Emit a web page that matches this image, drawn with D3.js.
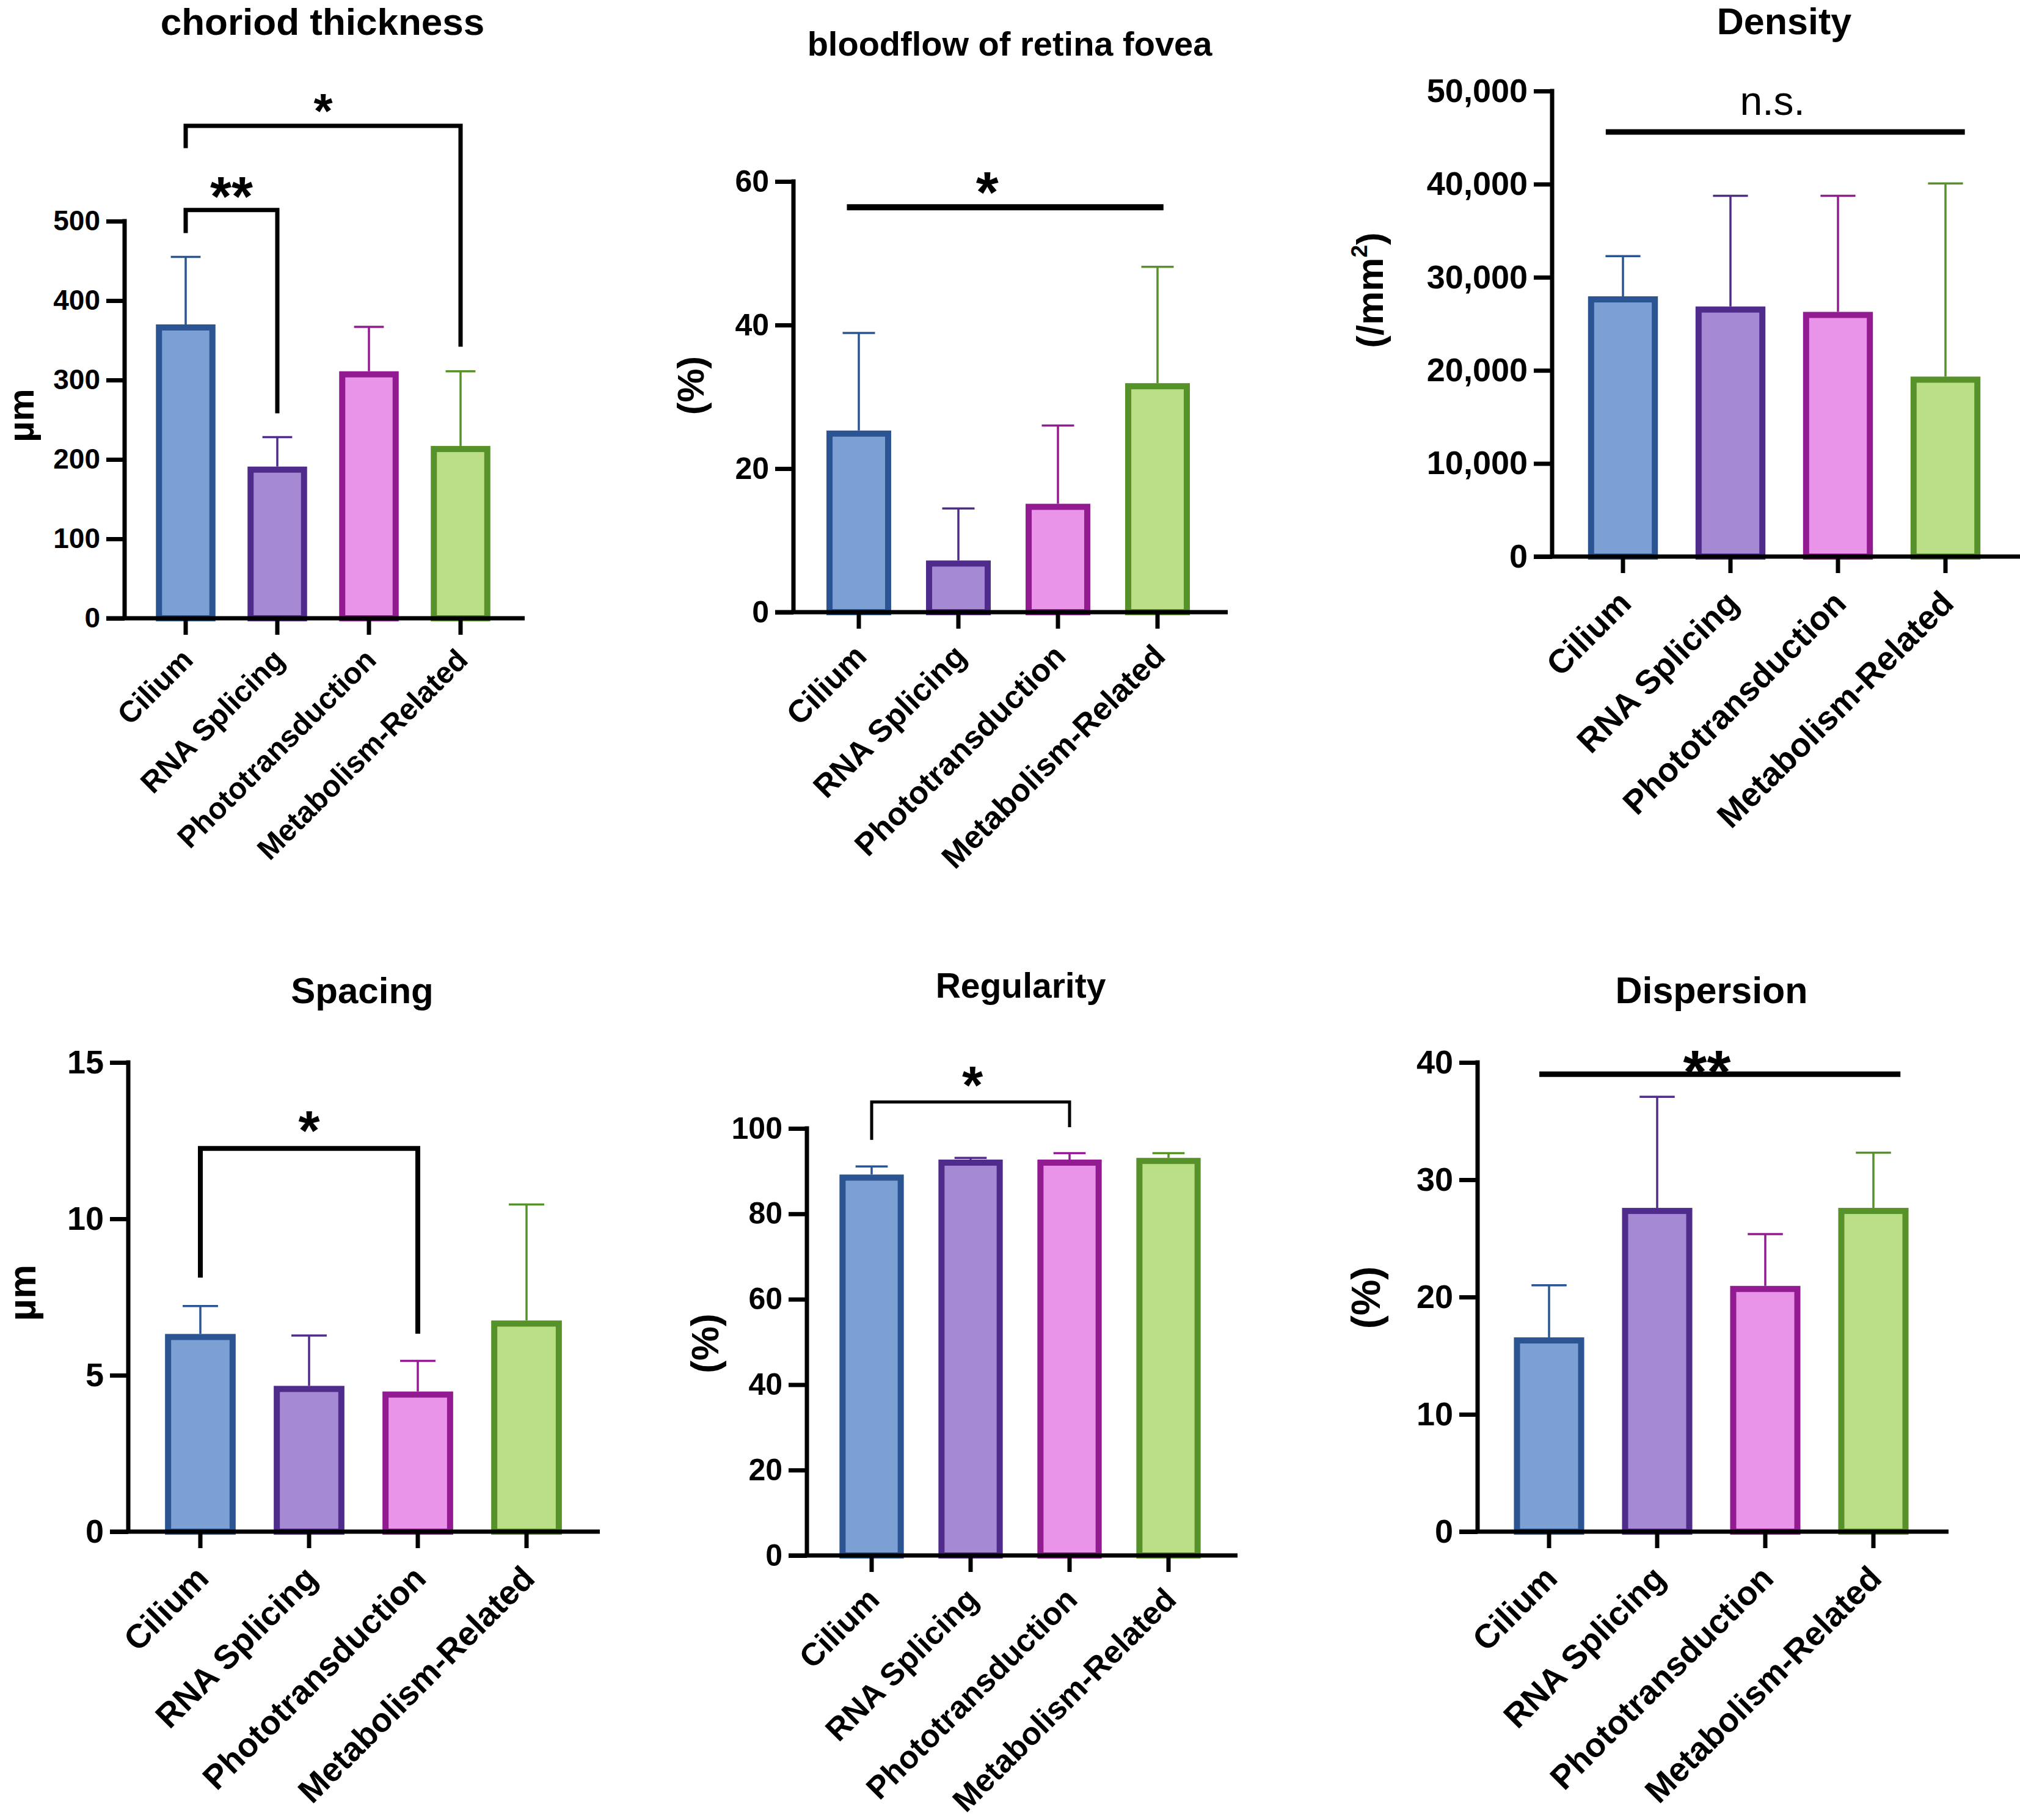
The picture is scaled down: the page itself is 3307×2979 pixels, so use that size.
<!DOCTYPE html>
<html><head><meta charset="utf-8">
<script src="https://cdn.jsdelivr.net/npm/d3@7"></script>
<style>html,body{margin:0;padding:0;background:#fff;} svg{display:block;}</style>
</head><body>
<script>
// ---------- data ----------
const categories = ["Cilium","RNA Splicing","Phototransduction","Metabolism-Related"];
const fills   = ["#7DA0D4","#A58AD3","#E994E8","#BBDF87"];
const strokes = ["#2A5592","#4F2C8C","#921B91","#56912A"];

const choroidMean = [370,191,311,217];
const choroidSD   = [85,37,56,94];
const choroidTicks = [0,100,200,300,400,500];

const bloodMean = [25.3,7.2,15.1,31.9];
const bloodSD   = [13.6,7.25,10.9,16.2];
const bloodTicks = [0,20,40,60];

const densityMean = [27950,26860,26280,19330];
const densitySD   = [4310,11880,12460,20750];
const densityTicks = [0,10000,20000,30000,40000,50000];

const spacingMean = [6.32,4.66,4.48,6.75];
const spacingSD   = [0.89,1.61,0.98,3.71];
const spacingTicks = [0,5,10,15];

const regularityMean = [89.2,92.7,92.7,93.1];
const regularitySD   = [1.9,0.4,1.5,1.1];
const regularityTicks = [0,20,40,60,80,100];

const dispersionMean = [16.56,27.6,20.95,27.6];
const dispersionSD   = [4.44,9.47,4.42,4.7];
const dispersionTicks = [0,10,20,30,40];

// significance annotations (category index, value units)
const choroidSig = [
  {type:"bracket", a:0, b:1, top:514, legA:485, legB:258, label:"**", lx:0.5, ly:546},
  {type:"bracket", a:0, b:3, top:620, legA:592, legB:342, label:"*", lx:1.5, ly:652}
];
const bloodSig = [{type:"line", a:-0.12, b:3.06, top:56.4, label:"*", lx:1.29, ly:60.3}];
const densitySig = [{type:"line", a:-0.16, b:3.18, top:45600, label:"n.s.", lx:1.39, ly:47440}];
const spacingSig = [{type:"bracket", a:0, b:2, top:12.25, legA:8.12, legB:6.33, label:"*", lx:1.0, ly:13.2}];
const regularitySig = [{type:"bracket", a:0, b:2, top:106.2, legA:97.3, legB:100.3, label:"*", lx:1.02, ly:112.9}];
const dispersionSig = [{type:"line", a:-0.09, b:3.25, top:39.0, label:"**", lx:1.46, ly:40.3}];

// ---------- layout ----------
const W = 3307, H = 2979;
const FONT = "'Liberation Sans', Arial, Helvetica, sans-serif";
const svg = d3.select("body").append("svg").attr("width",W).attr("height",H)
  .attr("font-family",FONT);
svg.append("rect").attr("width",W).attr("height",H).attr("fill","#fff");

const panels = [
  {title:"choriod thickness", tX:528, tY:57, tFs:62, mean:choroidMean, sd:choroidSD, ticks:choroidTicks,
   ax:204, yTop:362, y0:1012, xEnd:859, off:100, step:150, tickFs:46, catFs:49,
   ylab:"µm", ylX:55, ylY:680, ylFs:60, sig:choroidSig, sigW:7, starFs:[90,80]},
  {title:"bloodflow of retina fovea", tX:1653, tY:91, tFs:56, mean:bloodMean, sd:bloodSD, ticks:bloodTicks,
   ax:1299, yTop:297, y0:1002, xEnd:2010, off:107, step:163, tickFs:50, catFs:52,
   ylab:"(%)", ylX:1152, ylY:631, ylFs:62, sig:bloodSig, sigW:10, starFs:[95]},
  {title:"Density", tX:2921, tY:56, tFs:61, mean:densityMean, sd:densitySD, ticks:densityTicks,
   ax:2541, yTop:149, y0:911, xEnd:3307, off:116, step:176, tickFs:54, catFs:55,
   ylab:"(/mm2)", ylX:2264, ylY:475, ylFs:62, sig:densitySig, sigW:9, starFs:[66], fmt:d3.format(",")},
  {title:"Spacing", tX:593, tY:1642, tFs:60, mean:spacingMean, sd:spacingSD, ticks:spacingTicks,
   ax:210, yTop:1739, y0:2507, xEnd:982, off:118, step:178, tickFs:54, catFs:55,
   ylab:"µm", ylX:58, ylY:2116, ylFs:63, sig:spacingSig, sigW:8, starFs:[90]},
  {title:"Regularity", tX:1671, tY:1633, tFs:57, mean:regularityMean, sd:regularitySD, ticks:regularityTicks,
   ax:1321, yTop:1847, y0:2546, xEnd:2026, off:106, step:162, tickFs:50, catFs:52,
   ylab:"(%)", ylX:1176, ylY:2199, ylFs:63, sig:regularitySig, sigW:5, starFs:[88]},
  {title:"Dispersion", tX:2802, tY:1642, tFs:61, mean:dispersionMean, sd:dispersionSD, ticks:dispersionTicks,
   ax:2419, yTop:1739, y0:2507, xEnd:3190, off:117, step:177, tickFs:54, catFs:55,
   ylab:"(%)", ylX:2259, ylY:2124, ylFs:66, sig:dispersionSig, sigW:9, starFs:[100]}
];

const AXW = 7, BARSW = 10, ERRW = 3.5, TICKLEN = 30, XTICKLEN = 27;

panels.forEach(p => {
  const g = svg.append("g");
  const yMax = p.ticks[p.ticks.length-1];
  const y = d3.scaleLinear().domain([0,yMax]).range([p.y0,p.yTop]);
  const r0 = p.ax + p.off - p.step/2;
  const x = d3.scaleBand().domain(categories).range([r0, r0 + p.step*categories.length])
    .paddingInner(0.35).paddingOuter(0.175);
  const bw = x.bandwidth();
  const cx = i => x(categories[i]) + bw/2;
  const fx = f => cx(0) + f*x.step();

  // title
  g.append("text").attr("x",p.tX).attr("y",p.tY).attr("text-anchor","middle")
    .attr("font-weight","bold").attr("font-size",p.tFs).text(p.title);

  // bars
  const data = categories.map((c,i)=>({c, i, m:p.mean[i], s:p.sd[i]}));
  g.selectAll("rect.bar").data(data).join("rect").attr("class","bar")
    .attr("x", d => x(d.c) + BARSW/2)
    .attr("width", bw - BARSW)
    .attr("y", d => y(d.m) + BARSW/2)
    .attr("height", d => p.y0 - y(d.m) - BARSW/2)
    .attr("fill", d => fills[d.i]).attr("stroke", d => strokes[d.i]).attr("stroke-width", BARSW);

  // error bars
  g.selectAll("line.err").data(data).join("line").attr("class","err")
    .attr("x1", d => cx(d.i)).attr("x2", d => cx(d.i))
    .attr("y1", d => y(d.m)).attr("y2", d => y(d.m + d.s))
    .attr("stroke", d => strokes[d.i]).attr("stroke-width", ERRW);
  g.selectAll("line.cap").data(data).join("line").attr("class","cap")
    .attr("x1", d => cx(d.i) - bw*0.25).attr("x2", d => cx(d.i) + bw*0.25)
    .attr("y1", d => y(d.m + d.s)).attr("y2", d => y(d.m + d.s))
    .attr("stroke", d => strokes[d.i]).attr("stroke-width", ERRW);

  // y axis
  const yAxis = d3.axisLeft(y).tickValues(p.ticks).tickSize(TICKLEN).tickPadding(10)
    .tickFormat(p.fmt || d3.format("d"));
  const ya = g.append("g").attr("transform",`translate(${p.ax},0)`).call(yAxis);
  ya.select(".domain").remove();
  ya.selectAll(".tick line").attr("stroke","#000").attr("stroke-width",AXW);
  ya.selectAll(".tick text").attr("font-size",p.tickFs).attr("font-weight","bold")
    .attr("font-family",FONT).attr("fill","#000");
  g.append("line").attr("x1",p.ax).attr("x2",p.ax).attr("y1",p.yTop - AXW/2).attr("y2",p.y0)
    .attr("stroke","#000").attr("stroke-width",AXW);

  // x axis
  const xAxis = d3.axisBottom(x).tickSize(XTICKLEN).tickFormat("");
  const xa = g.append("g").attr("transform",`translate(0,${p.y0})`).call(xAxis);
  xa.select(".domain").remove();
  xa.selectAll(".tick line").attr("stroke","#000").attr("stroke-width",AXW);
  g.append("line").attr("x1",p.ax - TICKLEN).attr("x2",p.xEnd).attr("y1",p.y0).attr("y2",p.y0)
    .attr("stroke","#000").attr("stroke-width",AXW);

  // category labels
  g.selectAll("text.cat").data(data).join("text").attr("class","cat")
    .attr("transform", d => `translate(${cx(d.i) + 0.3*p.catFs},${p.y0 + 1.45*p.catFs}) rotate(-45)`)
    .attr("text-anchor","end").attr("font-weight","bold").attr("font-size",p.catFs)
    .text(d => d.c);

  // y label
  const yl = g.append("text").attr("transform",`translate(${p.ylX},${p.ylY}) rotate(-90)`)
    .attr("text-anchor","middle").attr("font-weight","bold").attr("font-size",p.ylFs);
  if (p.ylab === "(/mm2)") {
    yl.append("tspan").text("(/mm");
    yl.append("tspan").attr("dy",-0.42*p.ylFs).attr("font-size",p.ylFs*0.6).text("2");
    yl.append("tspan").attr("dy",0.42*p.ylFs).text(")");
  } else {
    yl.text(p.ylab);
  }

  // significance
  p.sig.forEach((s,k) => {
    const fs = p.starFs[k] || p.starFs[0];
    if (s.type === "bracket") {
      const xa_ = cx(s.a), xb_ = cx(s.b);
      g.append("path")
        .attr("d", `M${xa_},${y(s.legA)}V${y(s.top)}H${xb_}V${y(s.legB)}`)
        .attr("fill","none").attr("stroke","#000").attr("stroke-width",p.sigW)
        .attr("stroke-linejoin","miter");
    } else {
      g.append("line").attr("x1",fx(s.a)).attr("x2",fx(s.b))
        .attr("y1",y(s.top)).attr("y2",y(s.top))
        .attr("stroke","#000").attr("stroke-width",p.sigW);
    }
    if (s.label === "n.s.") {
      g.append("text").attr("x",fx(s.lx)).attr("y",y(s.ly)).attr("text-anchor","middle")
        .attr("font-size",fs).attr("font-weight","normal").text(s.label);
    } else {
      g.append("text").attr("x",fx(s.lx)).attr("y",y(s.ly) + 0.56*fs).attr("text-anchor","middle")
        .attr("font-size",fs).attr("font-weight","bold").text(s.label);
    }
  });
});
</script>
</body></html>
